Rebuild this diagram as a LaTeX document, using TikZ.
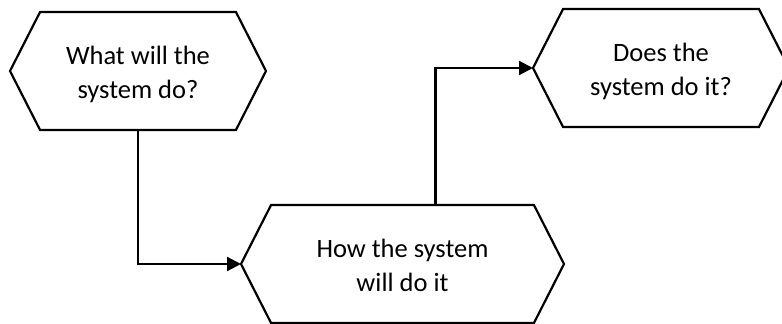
\documentclass[tikz,border=0pt]{standalone}
\usepackage{fontspec}
\setmainfont{Carlito}
\usetikzlibrary{shapes.symbols}
\usetikzlibrary{arrows.meta}
\tikzset{
>={Triangle[length=14pt,width=14pt]}, % filled arrow tips
my hex/.style={draw,shape=signal,signal to=west and east,signal pointer angle=126,
  minimum width=256pt,minimum height=118pt,inner sep=0pt,outer sep=0pt,
  align=center,font=\fontsize{26.5}{34}\selectfont,text height=54pt,text depth=0pt},
wide hex/.style={my hex,minimum width=323pt},
}
\begin{document}
\begin{tikzpicture}[x=1pt,y=-1pt,line width=2.2pt]
\useasboundingbox (0,0) rectangle (782,324);
\node[my hex] (what) at (138,71) {What will the\\system do?};
\node[wide hex] (how) at (402.5,264) {How the system\\will do it};
\node[my hex] (does) at (661,68) {Does the\\system do it?};
\draw[->] (what.south) |- (how.west);
\draw[->] ([xshift=33pt]how.north) |- (does.west);
\end{tikzpicture}
\end{document}
